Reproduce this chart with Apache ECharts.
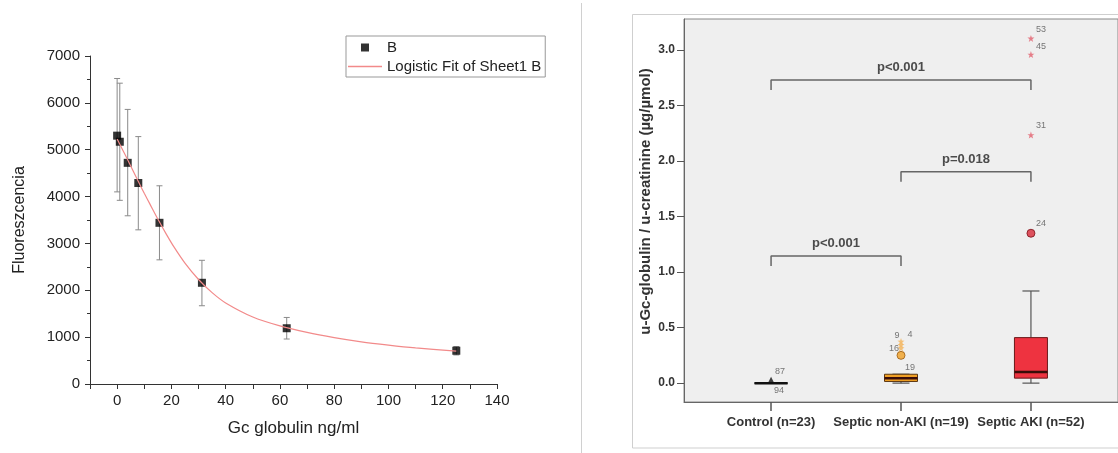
<!DOCTYPE html>
<html lang="en">
    <head>
        <meta charset="utf-8">
        <title>Gc globulin</title>
        <style>
            html, body { margin: 0; padding: 0; background: #fff; }
        </style>
    </head>

    <body>
        <div id="echart" style="width: 1118px; height: 453px;"></div>
        <script src="https://cdn.jsdelivr.net/npm/echarts@6/dist/echarts.min.js"></script>
        <script>
            // ---- left panel: standard curve ----
            const concX = [0, 0.98, 3.9, 7.8, 15.6, 31.25, 62.5, 125];
            const fluo = [5300, 5170, 4720, 4290, 3440, 2160, 1190, 710];
            const errLow = [4100, 3920, 3590, 3290, 2650, 1670, 960, 620];
            const errHigh = [6520, 6420, 5860, 5280, 4230, 2640, 1420, 800];
            // fit curve
            const fitX = [0, 2, 4, 6, 8, 10, 12, 15, 18, 21, 25, 30, 35, 40, 50, 60, 70, 80, 90, 100, 110, 125];
            const fitY = [5230, 5000, 4770, 4535, 4300, 4070, 3850, 3520, 3210, 2920, 2580, 2230, 1950, 1730, 1430, 1240, 1100, 990, 900, 830, 770, 700];

            // ---- right panel: box plot ----
            const groups = ['Control (n=23)', 'Septic non-AKI (n=19)', 'Septic AKI (n=52)'];
            // min, q1, median, q3, max
            const boxMin = [0, 0, 0];
            const boxQ1 = [0, 0.015, 0.045];
            const boxMedian = [0, 0.045, 0.1];
            const boxQ3 = [0, 0.08, 0.41];
            const boxMax = [0.005, 0.08, 0.83];
            const outlierGroup = [2, 3];
            const outlierValue = [0.25, 1.35];
            const outlierId = ['19', '24'];
            const extremeGroup = [2, 2, 2, 3, 3, 3];
            const extremeValue = [0.315, 0.345, 0.375, 2.235, 2.96, 3.105];
            const extremeId = ['16', '9', '4', '31', '45', '53'];
            const controlPtValue = [0.03, 0];
            const controlPtId = ['87', '94'];
            const bracketFrom = [1, 2, 1];
            const bracketTo = [2, 3, 3];
            const bracketLevel = [1.145, 1.905, 2.73];
            const bracketText = ['p<0.001', 'p=0.018', 'p<0.001'];
            const yTicks = [0, 0.5, 1, 1.5, 2, 2.5, 3];

            const boxFill = ['#222222', '#f0a024', '#ee3340'];
            const boxStroke = ['#111111', '#5a3510', '#6a1a1a'];
            const labelOffset = {
                '16': [-7, 0], '9': [-4, -9], '4': [9, -7], '19': [9, 12],
                '24': [10, -10], '31': [10, -9], '45': [10, -8], '53': [10, -9],
                '87': [9, -8], '94': [8, 7]
            };
            const starPath = 'path://M0,-10 L2.35,-3.24 L9.51,-3.09 L3.8,1.24 L5.88,8.09 L0,4 L-5.88,8.09 L-3.8,1.24 L-9.51,-3.09 L-2.35,-3.24 Z';
            const smallLabel = { fontSize: 9, color: '#555', fontFamily: 'Liberation Sans' };

            function idLabel(id) {
                return {
                    show: true, position: 'inside', formatter: id,
                    offset: labelOffset[id], ...smallLabel
                };
            }

            function renderErr(params, api) {
                const lo = api.coord([api.value(0), api.value(1)]);
                const hi = api.coord([api.value(0), api.value(2)]);
                const c = 3;
                const st = { stroke: '#8a8a8a', lineWidth: 1 };
                return {
                    type: 'group',
                    children: [
                        { type: 'line', shape: { x1: lo[0], y1: lo[1], x2: hi[0], y2: hi[1] }, style: st },
                        { type: 'line', shape: { x1: lo[0] - c, y1: lo[1], x2: lo[0] + c, y2: lo[1] }, style: st },
                        { type: 'line', shape: { x1: hi[0] - c, y1: hi[1], x2: hi[0] + c, y2: hi[1] }, style: st }
                    ]
                };
            }

            function renderBox(params, api) {
                const i = params.dataIndex;
                const x = api.value(0);
                const pMin = api.coord([x, api.value(1)]);
                const pQ1 = api.coord([x, api.value(2)]);
                const pMed = api.coord([x, api.value(3)]);
                const pQ3 = api.coord([x, api.value(4)]);
                const pMax = api.coord([x, api.value(5)]);
                const hw = 16.5, cw = 8.5;
                const cx = pMed[0];
                const wh = { stroke: '#555', lineWidth: 1.2 };
                return {
                    type: 'group',
                    children: [
                        { type: 'line', shape: { x1: cx, y1: pMin[1], x2: cx, y2: pQ1[1] }, style: wh },
                        { type: 'line', shape: { x1: cx, y1: pQ3[1], x2: cx, y2: pMax[1] }, style: wh },
                        { type: 'line', shape: { x1: cx - cw, y1: pMin[1], x2: cx + cw, y2: pMin[1] }, style: wh },
                        { type: 'line', shape: { x1: cx - cw, y1: pMax[1], x2: cx + cw, y2: pMax[1] }, style: wh },
                        {
                            type: 'rect',
                            shape: { x: cx - hw, y: pQ3[1], width: hw * 2, height: pQ1[1] - pQ3[1] },
                            style: { fill: boxFill[i], stroke: boxStroke[i], lineWidth: 1 }
                        },
                        {
                            type: 'line',
                            shape: { x1: cx - hw, y1: pMed[1], x2: cx + hw, y2: pMed[1] },
                            style: { stroke: i === 0 ? '#111' : '#3a0d08', lineWidth: 2.5 }
                        }
                    ]
                };
            }

            const boxData = groups.map((g, i) => [i + 1, boxMin[i], boxQ1[i], boxMedian[i], boxQ3[i], boxMax[i]]);

            const bracketSeries = bracketFrom.map((f, i) => ({
                type: 'line', xAxisIndex: 1, yAxisIndex: 1, silent: true,
                symbol: 'none',
                lineStyle: { color: '#666', width: 1.5 },
                data: [
                    [f, bracketLevel[i] - 0.09], [f, bracketLevel[i]],
                    [bracketTo[i], bracketLevel[i]], [bracketTo[i], bracketLevel[i] - 0.09]
                ]
            }));
            const bracketLabels = {
                type: 'scatter', xAxisIndex: 1, yAxisIndex: 1, symbolSize: 0, silent: true,
                data: bracketFrom.map((f, i) => ({
                    value: [(f + bracketTo[i]) / 2, bracketLevel[i]],
                    label: {
                        show: true, position: 'top', distance: 6, formatter: bracketText[i],
                        fontSize: 13, fontWeight: 'bold', color: '#222', fontFamily: 'Liberation Sans'
                    }
                }))
            };

            const txt = { fontFamily: 'Liberation Sans', color: '#222' };
            const boldTxt = { fontFamily: 'Liberation Sans', fontWeight: 'bold', color: '#333' };

            const myChart = echarts.init(document.getElementById('echart'));
            const option = {
                animation: false,
                backgroundColor: '#fff',
                graphic: [
                    { type: 'line', shape: { x1: 581.5, y1: 3, x2: 581.5, y2: 453 }, style: { stroke: '#d0d0d0', lineWidth: 1 } },
                    { type: 'rect', shape: { x: 632.5, y: 14.5, width: 520, height: 433.5 }, style: { fill: 'none', stroke: '#cfcfcf', lineWidth: 1 } }
                ],
                legend: {
                    orient: 'vertical', left: 346, top: 36,
                    itemWidth: 34, itemHeight: 8, itemGap: 4,
                    padding: [4, 4, 3, 2],
                    borderColor: '#999', borderWidth: 1,
                    textStyle: { ...txt, fontSize: 15 },
                    data: [
                        { name: 'B', icon: 'path://M0,0h10v10h-10z' },
                        { name: 'Logistic Fit of Sheet1 B', icon: 'path://M0,0h40v2h-40z' }
                    ]
                },
                grid: [
                    { left: 90, right: 621, top: 56, bottom: 69 },
                    {
                        left: 684, right: -7, top: 19, bottom: 51, show: true,
                        backgroundColor: '#efefef', borderColor: '#888', borderWidth: 1
                    }
                ],
                xAxis: [
                    {
                        gridIndex: 0, type: 'value', min: -10, max: 140, interval: 10,
                        name: 'Gc globulin ng/ml', nameLocation: 'middle', nameGap: 36,
                        nameTextStyle: { ...txt, fontSize: 17 },
                        splitLine: { show: false },
                        axisLine: { onZero: false, lineStyle: { color: '#333' } },
                        axisTick: { length: 5, lineStyle: { color: '#333' } },
                        axisLabel: {
                            ...txt, fontSize: 15, margin: 9,
                            formatter: (v) => (v % 20 === 0 ? String(v) : '')
                        }
                    },
                    {
                        gridIndex: 1, type: 'value', min: 0.33, max: 3.67,
                        splitLine: { show: false },
                        axisLine: { onZero: false, lineStyle: { color: '#666' } },
                        axisTick: { length: 9, customValues: [1, 2, 3], lineStyle: { color: '#555', width: 1.5 } },
                        axisLabel: {
                            customValues: [1, 2, 3], margin: 14,
                            ...boldTxt, fontSize: 13,
                            formatter: (v) => groups[Math.round(v) - 1]
                        }
                    }
                ],
                yAxis: [
                    {
                        gridIndex: 0, type: 'value', min: 0, max: 7000, interval: 1000,
                        name: 'Fluoreszcencia', nameLocation: 'middle', nameGap: 62,
                        nameTextStyle: { ...txt, fontSize: 16 },
                        splitLine: { show: false },
                        axisLine: { show: true, onZero: false, lineStyle: { color: '#333' } },
                        axisTick: { length: 5, lineStyle: { color: '#333' } },
                        minorTick: { show: true, splitNumber: 2, length: 3, lineStyle: { color: '#333' } },
                        axisLabel: { ...txt, fontSize: 15, margin: 10, formatter: (v) => String(v) }
                    },
                    {
                        gridIndex: 1, type: 'value', min: -0.17, max: 3.28,
                        name: 'u-Gc-globulin / u-creatinine (µg/µmol)', nameLocation: 'middle', nameGap: 31,
                        nameTextStyle: { ...boldTxt, fontSize: 15, padding: [0, 0, 0, 18] },
                        splitLine: { show: false },
                        axisLine: { show: true, onZero: false, lineStyle: { color: '#666' } },
                        axisTick: { length: 7, customValues: yTicks, lineStyle: { color: '#555' } },
                        axisLabel: {
                            customValues: yTicks, margin: 9,
                            ...boldTxt, fontSize: 12,
                            formatter: (v) => v.toFixed(1)
                        }
                    }
                ],
                series: [
                    {
                        name: 'Logistic Fit of Sheet1 B', type: 'line', smooth: 0.3,
                        xAxisIndex: 0, yAxisIndex: 0, symbol: 'none',
                        itemStyle: { color: '#f28a8a' },
                        lineStyle: { color: '#f28a8a', width: 1.2 },
                        data: fitX.map((x, i) => [x, fitY[i]])
                    },
                    {
                        name: 'err', type: 'custom', xAxisIndex: 0, yAxisIndex: 0,
                        renderItem: renderErr,
                        encode: { x: 0, y: [1, 2] },
                        data: concX.map((x, i) => [x, errLow[i], errHigh[i]])
                    },
                    {
                        name: 'B', type: 'scatter', xAxisIndex: 0, yAxisIndex: 0,
                        symbol: 'rect', symbolSize: 8,
                        itemStyle: { color: '#000' },
                        data: concX.map((x, i) => [x, fluo[i]])
                    },
                    ...bracketSeries,
                    bracketLabels,
                    {
                        name: 'box', type: 'custom', xAxisIndex: 1, yAxisIndex: 1,
                        renderItem: renderBox,
                        encode: { x: 0, y: [1, 2, 3, 4, 5] },
                        data: boxData, z: 3
                    },
                    {
                        name: 'outliers', type: 'scatter', xAxisIndex: 1, yAxisIndex: 1, z: 4,
                        symbol: 'circle', symbolSize: 8,
                        data: outlierGroup.map((g, i) => ({
                            value: [g, outlierValue[i]],
                            itemStyle: g === 2
                                ? { color: '#f0a024', borderColor: '#9a5a10', borderWidth: 1 }
                                : { color: '#d82a3a', borderColor: '#7a1018', borderWidth: 1 },
                            label: idLabel(outlierId[i])
                        }))
                    },
                    {
                        name: 'extremes', type: 'scatter', xAxisIndex: 1, yAxisIndex: 1, z: 4,
                        symbol: starPath, symbolSize: 7,
                        data: extremeGroup.map((g, i) => ({
                            value: [g, extremeValue[i]],
                            itemStyle: { color: g === 2 ? '#f4b45a' : '#e2606e' },
                            label: idLabel(extremeId[i])
                        }))
                    },
                    {
                        name: 'control', type: 'scatter', xAxisIndex: 1, yAxisIndex: 1, z: 4,
                        symbol: 'triangle',
                        data: controlPtValue.map((v, i) => ({
                            value: [1, v],
                            symbolSize: i === 0 ? 6 : 0,
                            itemStyle: { color: '#111' },
                            label: idLabel(controlPtId[i])
                        }))
                    }
                ]
            };
            myChart.setOption(option);
        </script>
    </body>
</html>
